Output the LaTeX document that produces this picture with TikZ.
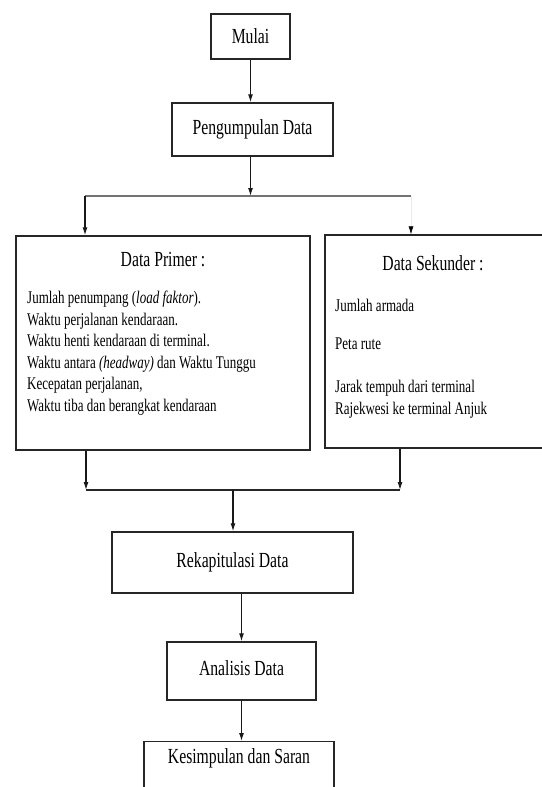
\documentclass[tikz,border=0pt]{standalone}
\usepackage{fontspec}
\setmainfont[FakeStretch=0.73]{Liberation Serif}
\usetikzlibrary{arrows.meta}
\tikzset{>={Latex[length=8pt,width=5pt]}}
\tikzset{
  kotak/.style = {draw=black!85,line width=1.4pt,fill=white,inner sep=0pt,
    font=\fontsize{21.5}{24}\selectfont},
  isi/.style = {align=left,inner sep=0pt,anchor=north west,
    font=\fontsize{17.8}{21.5}\selectfont},
  panah/.style = {->,line width=1.1pt,black!90}
}

\begin{document}
\begin{tikzpicture}[x=1pt,y=-1pt]
  \useasboundingbox (0,0) rectangle (541,787);
  % alur atas
  \node[kotak,minimum width=79pt,minimum height=45pt] (mulai) at (250.5,36.5) {Mulai};
  \node[kotak,minimum width=161pt,minimum height=53pt] (kumpul) at (252.5,129.5) {Pengumpulan Data};
  % data primer dan sekunder
  \node[kotak,minimum width=294pt,minimum height=214pt] (primer) at (163,343) {};
  \node[kotak,minimum width=225pt,minimum height=213pt] (sekunder) at (437.5,341.5) {};
  \node[font=\fontsize{21.5}{24}\selectfont,inner sep=0pt] (primerjudul) at (163,260) {Data Primer :};
  \node[font=\fontsize{21.5}{24}\selectfont,inner sep=0pt] (sekunderjudul) at (433,263) {Data Sekunder :};
  \node[isi] (primerisi) at (27,291) {Jumlah penumpang (\textit{load faktor}).\\
    Waktu perjalanan kendaraan.\\
    Waktu henti kendaraan di terminal.\\
    Waktu antara \textit{(headway)} dan Waktu Tunggu\\
    Kecepatan perjalanan,\\
    Waktu tiba dan berangkat kendaraan};
  \node[isi] (sekunderisi) at (335,299) {Jumlah armada\\[16.5pt]
    Peta rute\\[21.5pt]
    Jarak tempuh dari terminal\\
    Rajekwesi ke terminal Anjuk};
  % alur bawah
  \node[kotak,minimum width=241pt,minimum height=61pt,text depth=5pt] (rekap) at (232.5,562.5) {Rekapitulasi Data};
  \node[kotak,minimum width=149pt,minimum height=58pt,text depth=5pt] (analisis) at (241.5,671) {Analisis Data};
  \node[kotak,anchor=north,minimum width=190pt,text height=19pt,text depth=40pt,inner ysep=3pt] (simpulan) at (239,741) {Kesimpulan dan Saran};
  % percabangan
  \coordinate (cabangkiri) at (85,196);
  \coordinate (cabangkanan) at (411,196);
  \coordinate (gabungkiri) at (86,490);
  \coordinate (gabungkanan) at (400,490);
  \coordinate (gabung) at (233,490);
  \draw[panah] (mulai.south) -- (mulai.south |- kumpul.north);
  \draw[panah] (kumpul.south -| mulai) -- (mulai |- cabangkiri);
  \draw[black!55,line width=1.4pt] (cabangkiri) -- (cabangkanan);
  \draw[panah] (cabangkiri) -- (cabangkiri |- primer.north);
  \draw[->,black!8,line width=0.6pt,>={Latex[length=8pt,width=5pt,color=black]}] (cabangkanan) -- (cabangkanan |- sekunder.north);
  \draw[panah] (primer.south -| gabungkiri) -- (gabungkiri);
  \draw[panah] (sekunder.south -| gabungkanan) -- (gabungkanan);
  \draw[black!85,line width=1.4pt] (gabungkiri) -- (gabungkanan);
  \draw[panah] (gabung) -- (gabung |- rekap.north);
  \draw[panah] (rekap.south -| analisis) -- (analisis.north);
  \draw[panah] (analisis.south) -- (analisis.south |- simpulan.north);
\end{tikzpicture}
\end{document}
